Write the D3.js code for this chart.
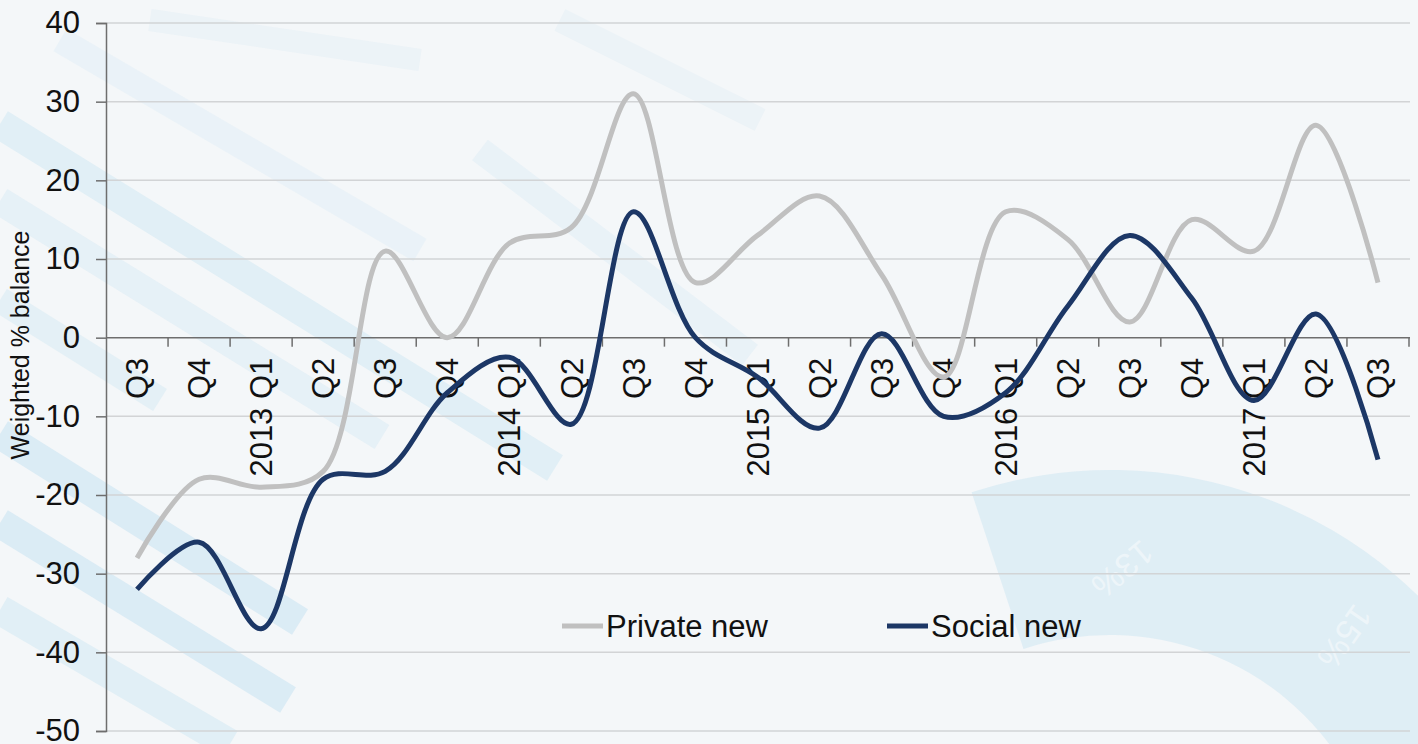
<!DOCTYPE html>
<html>
<head>
<meta charset="utf-8">
<script src="https://cdn.jsdelivr.net/npm/d3@7"></script>
<style>
  html, body { margin: 0; padding: 0; background: #f4f7f9; }
  svg { display: block; font-family: "Liberation Sans", Arial, sans-serif; }
</style>
</head>
<body>
<svg id="chart" width="1418" height="744"></svg>
<script>
// Quarterly survey balances, Q3 2012 – Q3 2017
const quarters = ["Q3", "Q4", "2013 Q1", "Q2", "Q3", "Q4", "2014 Q1", "Q2", "Q3", "Q4",
                  "2015 Q1", "Q2", "Q3", "Q4", "2016 Q1", "Q2", "Q3", "Q4", "2017 Q1", "Q2", "Q3"];
const privateNew = [-28, -18, -19, -17, 11, 0, 12, 14, 31, 7, 13, 18, 8, -5, 16, 12.5, 2, 15, 11, 27, 7];
const socialNew  = [-32, -26, -37, -18, -17, -7, -2.5, -11, 16, 0, -5, -11.5, 0.5, -10, -7, 4, 13, 5, -8, 3, -15.5];
const yTicks = [40, 30, 20, 10, 0, -10, -20, -30, -40, -50];
const seriesNames = ["Private new", "Social new"];
const seriesColors = ["#c0c0c0", "#1c3766"];

const svg = d3.select("#chart");
const W = 1418, H = 744;
const plot = { left: 106, right: 1409, top: 23, bottom: 731 };

// ---- decorative backdrop: diagonal bands and a ring segment ----
const deco = svg.append("g");
deco.append("rect").attr("width", W).attr("height", H).attr("fill", "#f4f7f9");
const bands = [
  [[0, 124], [555, 468], 30, 0.6],
  [[0, 201], [382, 437], 28, 0.45],
  [[0, 434], [300, 622], 30, 0.8],
  [[0, 523], [288, 700], 30, 0.8],
  [[0, 610], [230, 744], 30, 0.6],
  [[60, 40], [420, 250], 26, 0.3],
  [[150, 20], [420, 60], 22, 0.25],
  [[480, 150], [750, 355], 26, 0.35],
  [[560, 20], [760, 120], 24, 0.25],
  [[0, 300], [160, 400], 26, 0.5]
];
bands.forEach(([a, b, w, o]) => {
  deco.append("line")
    .attr("x1", a[0]).attr("y1", a[1]).attr("x2", b[0]).attr("y2", b[1])
    .attr("stroke", "#d4e9f4").attr("stroke-width", w).attr("stroke-opacity", o);
});
const ring = d3.arc().innerRadius(275).outerRadius(440)
  .startAngle(-0.32).endAngle(2.4);
deco.append("path").attr("d", ring())
  .attr("transform", "translate(1110,910)")
  .attr("fill", "#d9ebf4").attr("opacity", 0.8);
deco.append("text").text("13%")
  .attr("transform", "translate(1115,560) rotate(140)")
  .attr("font-size", 34).attr("fill", "#ffffff").attr("opacity", 0.45)
  .attr("text-anchor", "middle");
deco.append("text").text("15%")
  .attr("transform", "translate(1335,630) rotate(125)")
  .attr("font-size", 34).attr("fill", "#ffffff").attr("opacity", 0.45)
  .attr("text-anchor", "middle");

// ---- scales ----
const x = d3.scaleBand().domain(d3.range(quarters.length)).range([plot.left, plot.right]).padding(0);
const y = d3.scaleLinear().domain([-50, 40]).range([plot.bottom, plot.top]);
const cx = i => x(i) + x.bandwidth() / 2;

// gridlines
svg.append("g")
  .selectAll("line").data(yTicks.filter(t => t !== 0)).join("line")
  .attr("x1", plot.left).attr("x2", plot.right + 1)
  .attr("y1", d => y(d)).attr("y2", d => y(d))
  .attr("stroke", "#d2d4d6").attr("stroke-width", 1.5);

// y axis (plain hyphen for negatives)
const yAxis = svg.append("g").attr("transform", `translate(${plot.left},0)`)
  .call(d3.axisLeft(y).tickValues(yTicks).tickSize(10).tickPadding(16).tickFormat(d => String(d)));
yAxis.select(".domain").attr("stroke", "#6e6e6e").attr("stroke-width", 1.5);
yAxis.selectAll(".tick line").attr("stroke", "#6e6e6e").attr("stroke-width", 1.5);
yAxis.selectAll(".tick text").attr("font-size", 31).attr("fill", "#111").attr("font-family", "Liberation Sans, Arial, sans-serif");

// zero line with category ticks between quarters
const zeroY = y(0);
svg.append("line").attr("x1", plot.left).attr("x2", plot.right + 1).attr("y1", zeroY).attr("y2", zeroY)
  .attr("stroke", "#6e6e6e").attr("stroke-width", 1.5);
svg.append("g").selectAll("line").data(d3.range(1, quarters.length + 1)).join("line")
  .attr("x1", i => plot.left + i * x.step()).attr("x2", i => plot.left + i * x.step())
  .attr("y1", zeroY).attr("y2", zeroY + 9)
  .attr("stroke", "#6e6e6e").attr("stroke-width", 1.5);

// category labels, rotated
svg.append("g").selectAll("text").data(quarters).join("text")
  .attr("transform", (d, i) => `translate(${cx(i)},${zeroY + 20}) rotate(-90)`)
  .attr("text-anchor", "end").attr("dy", "0.36em")
  .attr("font-size", 31).attr("fill", "#111")
  .text(d => d);

// y axis title
svg.append("text")
  .attr("transform", `translate(29,345) rotate(-90)`)
  .attr("text-anchor", "middle")
  .attr("font-size", 25).attr("fill", "#111")
  .text("Weighted % balance");

// series lines, smoothed
const line = d3.line().x((d, i) => cx(i)).y(d => y(d)).curve(d3.curveCatmullRom.alpha(0.5));
[privateNew, socialNew].forEach((vals, k) => {
  svg.append("path").datum(vals)
    .attr("d", line)
    .attr("fill", "none")
    .attr("stroke", seriesColors[k])
    .attr("stroke-width", 5)
    .attr("stroke-linejoin", "round");
});

// legend
const legendX = [562, 887];
const legendY = 626;
seriesNames.forEach((name, k) => {
  const g = svg.append("g").attr("transform", `translate(${legendX[k]},${legendY})`);
  g.append("line").attr("x1", 0).attr("x2", 41).attr("y1", 0).attr("y2", 0)
    .attr("stroke", seriesColors[k]).attr("stroke-width", 5);
  g.append("text").attr("x", 44).attr("y", 0).attr("dy", "0.35em")
    .attr("font-size", 31).attr("fill", "#111").text(name);
});
</script>
</body>
</html>
